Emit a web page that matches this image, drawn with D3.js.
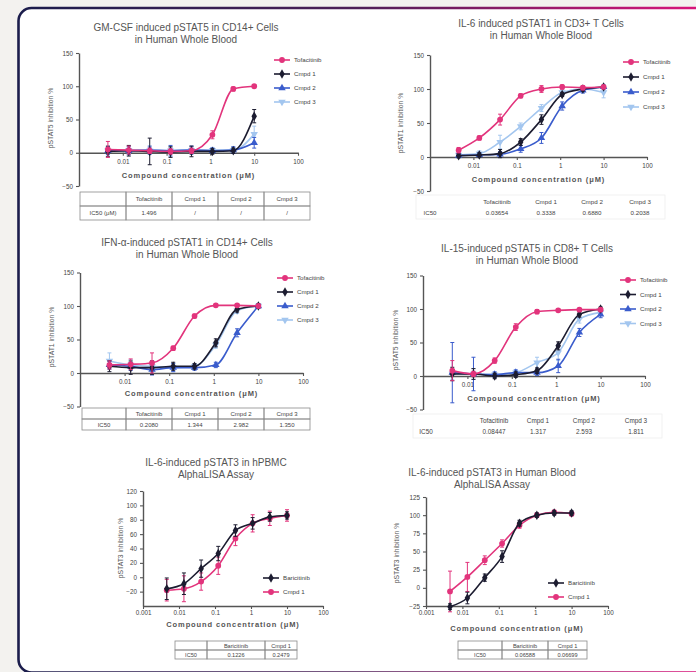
<!DOCTYPE html>
<html><head><meta charset="utf-8">
<script src="https://cdn.jsdelivr.net/npm/d3@7"></script>
<style>
html,body{margin:0;padding:0;background:#f3f2ef;}
svg{display:block;font-family:"Liberation Sans",Arial,sans-serif;}
</style></head><body>
<svg id="c" width="696" height="672"></svg>
<script>
// ---------- DATA ----------
const conc = [0.00457, 0.0137, 0.0412, 0.123, 0.370, 1.11, 3.33, 10];
const xTicksWB = [0.01, 0.1, 1, 10, 100];
const xLabelsWB = ["0.01", "0.1", "1", "10", "100"];
const xTicksAL = [0.001, 0.01, 0.1, 1, 10, 100];
const xLabelsAL = ["0.001", "0.01", "0.1", "1", "10", "100"];
const yTicksWB = [-50, 0, 50, 100, 150];
const yTicksP5 = [-20, 0, 20, 40, 60, 80, 100, 120];
const yTicksP6 = [-25, 0, 25, 50, 75, 100, 125];
const namesWB = ["Tofacitinib", "Cmpd 1", "Cmpd 2", "Cmpd 3"];
const namesAL = ["Baricitinib", "Cmpd 1"];

// Panel 1: GM-CSF induced pSTAT5 in CD14+ cells
const p1Tofa = [5, 4, 3, 2, 3, 27, 96, 100], p1TofaSD = [12, 6, 4, 4, 4, 6, 3, 2];
const p1C1 = [2, 3, 2, 1, 2, 2, 3, 55], p1C1SD = [8, 8, 20, 8, 8, 4, 4, 10];
const p1C2 = [3, 3, 4, 3, 4, 3, 4, 15], p1C2SD = [6, 6, 6, 8, 6, 4, 5, 8];
const p1C3 = [3, 4, 3, 3, 4, 4, 4, 28], p1C3SD = [5, 5, 5, 5, 5, 4, 4, 12];
const p1IC50 = ["1.496", "/", "/", "/"];

// Panel 2: IL-6 induced pSTAT1 in CD3+ T cells
const p2Tofa = [10, 28, 55, 90, 100, 103, 102, 103], p2TofaSD = [4, 3, 8, 3, 5, 3, 3, 2];
const p2C1 = [2, 3, 5, 22, 55, 92, 100, 103], p2C1SD = [3, 3, 6, 5, 7, 3, 3, 2];
const p2C2 = [2, 3, 4, 12, 28, 75, 98, 103], p2C2SD = [3, 3, 4, 5, 8, 6, 4, 3];
const p2C3 = [3, 5, 22, 45, 72, 95, 100, 95], p2C3SD = [4, 4, 10, 5, 5, 4, 4, 8];
const p2IC50 = ["0.03654", "0.3338", "0.6880", "0.2038"];

// Panel 3: IFN-a induced pSTAT1 in CD14+ cells
const p3Tofa = [12, 13, 15, 37, 85, 101, 101, 100], p3TofaSD = [6, 8, 15, 3, 3, 2, 2, 2];
const p3C1 = [10, 8, 8, 10, 10, 45, 95, 100], p3C1SD = [8, 10, 10, 6, 4, 6, 4, 3];
const p3C2 = [12, 10, 5, 8, 8, 12, 60, 100], p3C2SD = [6, 6, 8, 6, 4, 4, 6, 3];
const p3C3 = [18, 12, 10, 8, 10, 42, 93, 100], p3C3SD = [12, 8, 8, 6, 4, 5, 4, 3];
const p3IC50 = ["0.2080", "1.344", "2.982", "1.350"];

// Panel 4: IL-15 induced pSTAT5 in CD8+ T cells
const p4Tofa = [8, 3, 23, 73, 96, 98, 99, 99], p4TofaSD = [15, 4, 4, 5, 3, 2, 2, 2];
const p4C1 = [3, 3, 0, 2, 8, 45, 92, 100], p4C1SD = [10, 8, 4, 4, 4, 6, 4, 3];
const p4C2 = [5, 3, 2, 5, 5, 15, 65, 92], p4C2SD = [45, 25, 4, 4, 4, 10, 6, 5];
const p4C3 = [3, 3, 2, 5, 20, 35, 85, 95], p4C3SD = [8, 8, 4, 4, 8, 12, 6, 5];
const p4IC50 = ["0.08447", "1.317", "2.593", "1.811"];

// Panel 5: IL-6 induced pSTAT3 in hPBMC (AlphaLISA)
const p5Bari = [-16, -9, 12, 33, 65, 75, 84, 86], p5BariSD = [15, 15, 12, 10, 8, 8, 6, 5];
const p5C1 = [-18, -16, -6, 16, 54, 75, 82, 86], p5C1SD = [15, 18, 12, 12, 10, 12, 10, 8];
const p5IC50 = ["0.1226", "0.2479"];

// Panel 6: IL-6 induced pSTAT3 in human blood (AlphaLISA)
const p6Bari = [-26, -14, 14, 43, 89, 100, 103, 103], p6BariSD = [4, 8, 5, 8, 4, 3, 3, 3];
const p6C1 = [-5, 15, 38, 61, 86, 100, 104, 102], p6C1SD = [28, 20, 6, 5, 4, 3, 3, 3];
const p6IC50 = ["0.06588", "0.06699"];

// ---------- STYLE ----------
const PINK = "#e2347c", BLACK = "#1c1c30", BLUE = "#3a5ccc", LIGHT = "#a3c6ef";
const styleWB = [
  {color: PINK, sym: d3.symbolCircle, size: 26},
  {color: BLACK, sym: d3.symbolDiamond, size: 26},
  {color: BLUE, sym: d3.symbolTriangle, size: 24},
  {color: LIGHT, sym: d3.symbolTriangle, size: 24, rot: 180}
];
const styleAL = [
  {color: BLACK, sym: d3.symbolDiamond, size: 26},
  {color: PINK, sym: d3.symbolCircle, size: 26}
];

const svg = d3.select("#c");
const defs = svg.append("defs");
const grad = defs.append("linearGradient").attr("id", "frame")
  .attr("gradientUnits", "userSpaceOnUse").attr("x1", 18).attr("x2", 696).attr("y1", 0).attr("y2", 0);
grad.append("stop").attr("offset", 0).attr("stop-color", "#1b1d4c");
grad.append("stop").attr("offset", 0.5).attr("stop-color", "#4d1f57");
grad.append("stop").attr("offset", 1).attr("stop-color", "#d8157a");

svg.append("rect").attr("x", 0).attr("y", 0).attr("width", 696).attr("height", 672).attr("fill", "#f3f2ef");
svg.append("rect").attr("x", 18.5).attr("y", 8).attr("width", 720).attr("height", 664.5)
  .attr("rx", 13).attr("fill", "#fff").attr("stroke", "url(#frame)").attr("stroke-width", 2.6);

function drawPanel(p) {
  const g = svg.append("g");
  const x = d3.scaleLog().domain(p.xDomain).range([p.left, p.right]);
  const y = d3.scaleLinear().domain(p.yDomain).range([p.bottom, p.top]);

  // title
  const t = g.append("text").attr("x", p.titleX).attr("y", p.titleY)
    .attr("text-anchor", "middle").attr("font-size", 10).attr("fill", "#555");
  p.title.forEach((line, i) => t.append("tspan").attr("x", p.titleX).attr("dy", i ? 12 : 0).text(line));

  // y axis
  const ya = g.append("g").attr("transform", `translate(${p.left},0)`)
    .call(d3.axisLeft(y).tickValues(p.yTicks).tickSize(3).tickSizeOuter(0).tickPadding(3));
  // x axis
  const xa = g.append("g").attr("transform", `translate(0,${y(p.xAxisAt)})`)
    .call(d3.axisBottom(x).tickValues(p.xTicks).tickFormat((d, i) => p.xLabels[i])
      .tickSize(3).tickSizeOuter(0).tickPadding(p.xPad || 4));
  [ya, xa].forEach(a => {
    a.select(".domain").attr("stroke", "#555").attr("stroke-width", 1.4);
    a.selectAll(".tick line").attr("stroke", "#555").attr("stroke-width", 1.1);
    a.selectAll(".tick text").attr("font-size", 6.3).attr("fill", "#444")
      .attr("font-family", "Liberation Sans, Arial, sans-serif");
  });

  // axis titles
  g.append("text").attr("x", (p.left + p.right) / 2 + (p.xTitleDx || 0)).attr("y", p.xTitleY)
    .attr("text-anchor", "middle").attr("font-size", 7.5).attr("font-weight", "bold")
    .attr("letter-spacing", 0.9).attr("fill", "#555").text("Compound concentration (μM)");
  g.append("text").attr("transform", `translate(${p.yTitleX},${p.yTitleY}) rotate(-90)`)
    .attr("text-anchor", "middle").attr("font-size", 6.8).attr("fill", "#555").text(p.yTitle);

  // series
  const line = d3.line().x(d => x(d.c)).y(d => y(d.v)).curve(d3.curveMonotoneX);
  const order = p.series.map((s, i) => i).reverse();
  order.forEach(i => {
    const s = p.series[i], st = p.styles[i];
    const pts = conc.map((c, k) => ({c, v: s.vals[k], e: s.sd[k]}));
    g.append("path").datum(pts).attr("d", line).attr("fill", "none")
      .attr("stroke", st.color).attr("stroke-width", 1.6);
    const eg = g.append("g").attr("stroke", st.color).attr("stroke-width", 1);
    pts.forEach(d => {
      const xx = x(d.c);
      eg.append("line").attr("x1", xx).attr("x2", xx).attr("y1", y(d.v - d.e)).attr("y2", y(d.v + d.e));
      eg.append("line").attr("x1", xx - 2).attr("x2", xx + 2).attr("y1", y(d.v - d.e)).attr("y2", y(d.v - d.e));
      eg.append("line").attr("x1", xx - 2).attr("x2", xx + 2).attr("y1", y(d.v + d.e)).attr("y2", y(d.v + d.e));
    });
    g.append("g").selectAll("path").data(pts).join("path")
      .attr("d", d3.symbol().type(st.sym).size(st.size))
      .attr("transform", d => `translate(${x(d.c)},${y(d.v)}) rotate(${st.rot || 0})`)
      .attr("fill", st.color);
  });

  // legend
  p.series.forEach((s, i) => {
    const st = p.styles[i], ly = p.legY + i * p.legDy;
    g.append("line").attr("x1", p.legX - 8).attr("x2", p.legX + 8).attr("y1", ly).attr("y2", ly)
      .attr("stroke", st.color).attr("stroke-width", 1.6);
    g.append("path").attr("d", d3.symbol().type(st.sym).size(st.size))
      .attr("transform", `translate(${p.legX},${ly}) rotate(${st.rot || 0})`).attr("fill", st.color);
    g.append("text").attr("x", p.legX + 12).attr("y", ly + 2).attr("font-size", 6.2)
      .attr("fill", "#444").text(s.name);
  });

  // table
  const tb = p.table;
  const header = [""].concat(p.series.map(s => s.name));
  const row = [tb.rowLabel].concat(p.ic50);
  if (tb.border) {
    let cx = tb.x;
    tb.widths.forEach((w, i) => {
      [0, 1].forEach(r => {
        g.append("rect").attr("x", cx).attr("y", tb.y + r * tb.rowH).attr("width", w).attr("height", tb.rowH)
          .attr("fill", "none").attr("stroke", "#8a8a8a").attr("stroke-width", 0.8);
      });
      g.append("text").attr("x", cx + w / 2).attr("y", tb.y + tb.rowH / 2 + 2.2).attr("text-anchor", "middle")
        .attr("font-size", tb.fs).attr("fill", "#444").text(header[i]);
      g.append("text").attr("x", cx + w / 2).attr("y", tb.y + tb.rowH * 1.5 + 2.2).attr("text-anchor", "middle")
        .attr("font-size", tb.fs).attr("fill", "#444").text(row[i]);
      cx += w;
    });
  } else {
    g.append("rect").attr("x", tb.x0).attr("y", tb.y - 9).attr("width", tb.x1 - tb.x0).attr("height", 24)
      .attr("fill", "none").attr("stroke", "#eee").attr("stroke-width", 0.8);
    tb.cols.forEach((cx, i) => {
      g.append("text").attr("x", cx).attr("y", tb.y).attr("text-anchor", "middle")
        .attr("font-size", tb.fs).attr("fill", "#444").text(header[i]);
      g.append("text").attr("x", cx).attr("y", tb.y + 11).attr("text-anchor", "middle")
        .attr("font-size", tb.fs).attr("fill", "#444").text(row[i]);
    });
  }
}

const wbSeries = (a, b, c, d) => namesWB.map((n, i) => ({name: n, vals: [a, b, c, d][i][0], sd: [a, b, c, d][i][1]}));

drawPanel({
  title: ["GM-CSF induced pSTAT5 in CD14+ Cells", "in Human Whole Blood"], titleX: 186, titleY: 31,
  left: 79, right: 298, top: 53, bottom: 186, xDomain: [0.001, 100], yDomain: [-50, 150], xAxisAt: 0,
  xTicks: xTicksWB, xLabels: xLabelsWB, yTicks: yTicksWB,
  xTitleY: 178, yTitleX: 53, yTitleY: 118, yTitle: "pSTAT5 inhibition %",
  series: wbSeries([p1Tofa, p1TofaSD], [p1C1, p1C1SD], [p1C2, p1C2SD], [p1C3, p1C3SD]), styles: styleWB,
  legX: 282, legY: 60, legDy: 14, ic50: p1IC50,
  table: {border: true, x: 80, y: 192, widths: [46, 46, 46, 46, 46], rowH: 14, fs: 6, rowLabel: "IC50 (μM)"}
});

drawPanel({
  title: ["IL-6 induced pSTAT1 in CD3+ T Cells", "in Human Whole Blood"], titleX: 541, titleY: 27,
  left: 430, right: 647, top: 55, bottom: 191, xDomain: [0.001, 100], yDomain: [-50, 150], xAxisAt: 0,
  xTicks: xTicksWB, xLabels: xLabelsWB, yTicks: yTicksWB,
  xTitleY: 182, yTitleX: 403, yTitleY: 123, yTitle: "pSTAT1 inhibition %",
  series: wbSeries([p2Tofa, p2TofaSD], [p2C1, p2C1SD], [p2C2, p2C2SD], [p2C3, p2C3SD]), styles: styleWB,
  legX: 631, legY: 62, legDy: 15, ic50: p2IC50,
  table: {border: false, x0: 416, x1: 665, y: 204, cols: [430, 497, 546, 592, 640], fs: 6.2, rowLabel: "IC50"}
});

drawPanel({
  title: ["IFN-α-induced pSTAT1 in CD14+ Cells", "in Human Whole Blood"], titleX: 187, titleY: 246,
  left: 80, right: 303, top: 272.5, bottom: 406.5, xDomain: [0.001, 100], yDomain: [-50, 150], xAxisAt: 0,
  xTicks: xTicksWB, xLabels: xLabelsWB, yTicks: yTicksWB,
  xTitleY: 396, yTitleX: 54, yTitleY: 337, yTitle: "pSTAT1 inhibition %",
  series: wbSeries([p3Tofa, p3TofaSD], [p3C1, p3C1SD], [p3C2, p3C2SD], [p3C3, p3C3SD]), styles: styleWB,
  legX: 285, legY: 278, legDy: 14, ic50: p3IC50,
  table: {border: true, x: 82, y: 408, widths: [44, 46, 46, 46, 46], rowH: 11, fs: 6, rowLabel: "IC50"}
});

drawPanel({
  title: ["IL-15-induced pSTAT5 in CD8+ T Cells", "in Human Whole Blood"], titleX: 527, titleY: 252,
  left: 423, right: 645, top: 275.5, bottom: 409.5, xDomain: [0.001, 100], yDomain: [-50, 150], xAxisAt: 0,
  xTicks: xTicksWB, xLabels: xLabelsWB, yTicks: yTicksWB,
  xTitleY: 401, yTitleX: 398, yTitleY: 340, yTitle: "pSTAT5 inhibition %",
  series: wbSeries([p4Tofa, p4TofaSD], [p4C1, p4C1SD], [p4C2, p4C2SD], [p4C3, p4C3SD]), styles: styleWB,
  legX: 628, legY: 280, legDy: 14.5, ic50: p4IC50,
  table: {border: false, x0: 413, x1: 662, y: 423, cols: [426, 494, 538, 584, 636], fs: 6.4, rowLabel: "IC50"}
});

drawPanel({
  title: ["IL-6-induced pSTAT3 in hPBMC", "AlphaLISA Assay"], titleX: 216, titleY: 466,
  left: 143, right: 323, top: 491, bottom: 606, xDomain: [0.001, 100], yDomain: [-40, 120], xAxisAt: -40,
  xTicks: xTicksAL, xLabels: xLabelsAL, yTicks: yTicksP5, xPad: 2,
  xTitleY: 627, yTitleX: 123, yTitleY: 548, yTitle: "pSTAT3 inhibition %",
  series: namesAL.map((n, i) => ({name: n, vals: [p5Bari, p5C1][i], sd: [p5BariSD, p5C1SD][i]})), styles: styleAL,
  legX: 271, legY: 578, legDy: 14, ic50: p5IC50,
  table: {border: true, x: 175, y: 641, widths: [32, 58, 32], rowH: 9, fs: 5.6, rowLabel: "IC50"}
});

drawPanel({
  title: ["IL-6-induced pSTAT3 in Human Blood", "AlphaLISA Assay"], titleX: 492, titleY: 476,
  left: 426, right: 608, top: 497, bottom: 606, xDomain: [0.001, 100], yDomain: [-25, 125], xAxisAt: -25,
  xTicks: xTicksAL, xLabels: xLabelsAL, yTicks: yTicksP6, xPad: 2,
  xTitleY: 631, yTitleX: 399, yTitleY: 553, yTitle: "pSTAT3 inhibition %",
  series: namesAL.map((n, i) => ({name: n, vals: [p6Bari, p6C1][i], sd: [p6BariSD, p6C1SD][i]})), styles: styleAL,
  legX: 556, legY: 583, legDy: 14, ic50: p6IC50,
  table: {border: true, x: 458, y: 641, widths: [44, 46, 39], rowH: 9, fs: 5.6, rowLabel: "IC50"}
});
</script>
</body></html>
